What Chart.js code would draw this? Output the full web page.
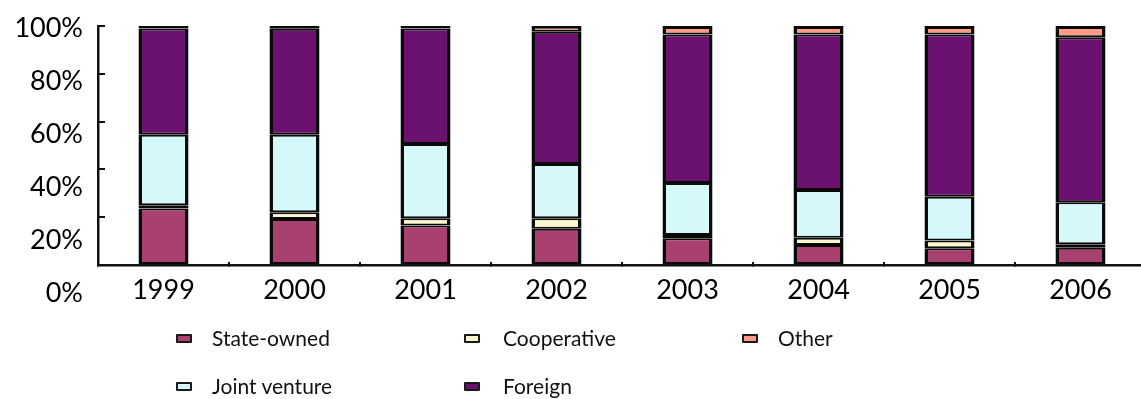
<!DOCTYPE html>
<html>
<head>
<meta charset="utf-8">
<script src="https://cdn.jsdelivr.net/npm/chart.js@4/dist/chart.umd.min.js"></script>
<style>
  html, body { margin: 0; padding: 0; background: #fff; overflow: hidden; }
  #wrap { position: relative; width: 1148px; height: 399px; }
  #legend { position: absolute; left: 0; top: 0; width: 1141px; height: 399px; font-family: Lato, sans-serif; font-size: 21px; color: #111; }
  .key { position: absolute; width: 12px; height: 5px; border: 2.5px solid #1a1a1a; border-radius: 1px; }
  .lbl { position: absolute; white-space: nowrap; line-height: 24px; }
</style>
</head>
<body>
<div id="wrap">
  <canvas id="ownershipChart" width="1148" height="399"></canvas>
  <div id="legend"></div>
</div>
<script>
const years = ['1999', '2000', '2001', '2002', '2003', '2004', '2005', '2006'];

// shares in %, bottom of the stack first
const stateOwned   = [23.6, 19.2, 16.5, 15.2, 11.2, 8.4, 7.0, 7.2];
const cooperative  = [1.4, 2.9, 3.1, 4.4, 1.4, 3.0, 3.2, 1.5];
const jointVenture = [29.5, 32.4, 31.0, 22.7, 21.7, 20.0, 18.4, 17.6];
const foreign      = [44.5, 44.4, 48.4, 55.3, 62.1, 65.0, 67.8, 69.0];
const other        = [1.0, 1.1, 1.0, 2.4, 3.6, 3.6, 3.6, 4.7];

const tickValues = [0, 20, 40, 60, 80, 100];
const tickLabels = ['0%', '20%', '40%', '60%', '80%', '100%'];

const series = [
  { name: 'State-owned',   data: stateOwned,   color: '#a8416f' },
  { name: 'Cooperative',   data: cooperative,  color: '#fbf7cc' },
  { name: 'Joint venture', data: jointVenture, color: '#d5f8fb' },
  { name: 'Foreign',       data: foreign,      color: '#6b116f' },
  { name: 'Other',         data: other,        color: '#ff9a86' }
];

// legend grid as in the original: two rows, three columns
const legendOrder = ['State-owned', 'Cooperative', 'Other', 'Joint venture', 'Foreign'];
const legendCols = [176, 464, 742];
const legendTextCols = [212, 503, 778];
const legendRows = [338, 386];

// the y labels in the original drift below their ticks
const yLabels = {
  id: 'yLabels',
  afterDraw(chart) {
    const y = chart.scales.y;
    const ctx = chart.ctx;
    const top = y.getPixelForValue(100);
    ctx.save();
    ctx.font = '27px Lato';
    ctx.fillStyle = '#000';
    ctx.textAlign = 'right';
    ctx.textBaseline = 'middle';
    tickValues.forEach((v, i) => {
      const py = y.getPixelForValue(v);
      ctx.fillText(tickLabels[i], 83, top + 2.5 + (py - top) * 1.107);
    });
    ctx.restore();
  }
};

new Chart(document.getElementById('ownershipChart'), {
  type: 'bar',
  data: {
    labels: years,
    datasets: series.map((s, i) => ({
      label: s.name,
      data: s.data,
      backgroundColor: s.color,
      borderColor: '#0a0a0a',
      // top+bottom halves make a full separator; thin slices turn black as in the original
      borderWidth: { top: i === series.length - 1 ? 3 : 2, bottom: 2, left: 3.5, right: 3.5 },
      borderSkipped: false,
      inflateAmount: 0,
      categoryPercentage: 1,
      barPercentage: 0.382
    }))
  },
  options: {
    responsive: false,
    animation: false,
    layout: { padding: { top: 26, right: 2, left: 0, bottom: 0 } },
    plugins: { legend: { display: false }, tooltip: { enabled: false } },
    scales: {
      x: {
        stacked: true,
        afterFit: s => { s.height = 134; },
        border: { display: true, color: '#111', width: 2.5 },
        grid: { display: true, drawOnChartArea: false, drawTicks: true, tickLength: -3, color: '#111', lineWidth: 2 },
        ticks: { color: '#000', font: { family: 'Lato', size: 27 }, padding: 12, maxRotation: 0 }
      },
      y: {
        stacked: true,
        min: 0,
        max: 100,
        afterFit: s => { s.width = 98; },
        afterBuildTicks: s => { s.ticks = tickValues.map(v => ({ value: v })); },
        border: { display: true, color: '#111', width: 2.5 },
        grid: { display: true, drawOnChartArea: false, drawTicks: true, tickLength: -7, color: '#111', lineWidth: 2 },
        ticks: { display: false }
      }
    }
  },
  plugins: [yLabels]
});

// legend
const legend = document.getElementById('legend');
legendOrder.forEach((name, i) => {
  const s = series.find(d => d.name === name);
  const col = i % 3, row = Math.floor(i / 3);
  const key = document.createElement('div');
  key.className = 'key';
  key.style.left = legendCols[col] + 'px';
  key.style.top = (legendRows[row] - 4) + 'px';
  key.style.background = s.color;
  legend.appendChild(key);
  const lbl = document.createElement('div');
  lbl.className = 'lbl';
  lbl.style.left = legendTextCols[col] + 'px';
  lbl.style.top = (legendRows[row] - 12) + 'px';
  lbl.textContent = name;
  legend.appendChild(lbl);
});
</script>
</body>
</html>
